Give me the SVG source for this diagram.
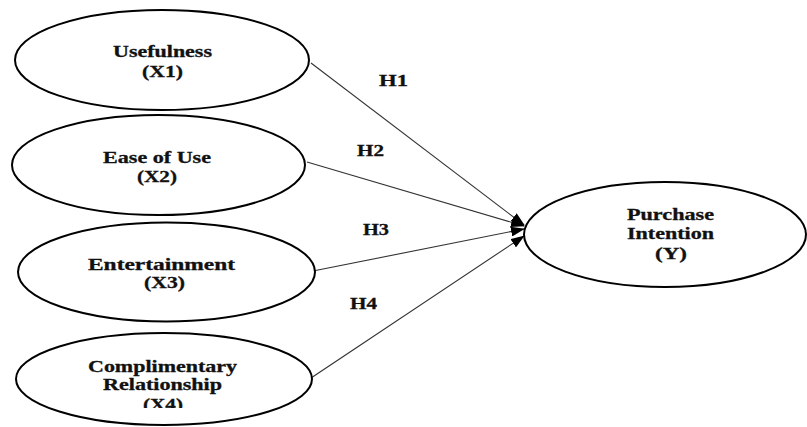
<svg xmlns="http://www.w3.org/2000/svg" width="807" height="427" viewBox="0 0 807 427">
  <style>
    .node ellipse { fill: #ffffff; stroke: #000000; stroke-width: 2; }
    .lbl { font-family: 'Liberation Serif', 'DejaVu Serif', serif; font-weight: 700; font-size: 16.5px; fill: #111111; stroke: #111111; stroke-width: 0.3; text-anchor: middle; }
    .conn line { stroke: #333333; stroke-width: 1.1; fill: none; marker-end: url(#arrow); }
    .hl { font-family: 'Liberation Serif', 'DejaVu Serif', serif; font-weight: 700; font-size: 16.5px; fill: #111111; stroke: #111111; stroke-width: 0.3; }
  </style>
  <defs>
    <marker id="arrow" markerUnits="userSpaceOnUse" markerWidth="14" markerHeight="10" refX="13" refY="5" orient="auto">
      <path d="M0,0 L14,5 L0,10 Z" fill="#000000"/>
    </marker>
    <clipPath id="clipX4">
      <rect x="0" y="0" width="807" height="408"/>
    </clipPath>
  </defs>
  <rect width="807" height="427" fill="#ffffff"/>

  <g id="connectors" class="conn">
    <line x1="311" y1="63" x2="524" y2="225"/>
    <line x1="307" y1="162" x2="524" y2="226"/>
    <line x1="313" y1="271" x2="524" y2="229"/>
    <line x1="311" y1="378" x2="524" y2="236"/>
  </g>

  <g id="labels">
    <text class="hl" x="379" y="86" textLength="29" lengthAdjust="spacingAndGlyphs">H1</text>
    <text class="hl" x="357" y="156" textLength="27" lengthAdjust="spacingAndGlyphs">H2</text>
    <text class="hl" x="363" y="235" textLength="26" lengthAdjust="spacingAndGlyphs">H3</text>
    <text class="hl" x="350" y="309" textLength="27" lengthAdjust="spacingAndGlyphs">H4</text>
  </g>

  <g id="x1" class="node">
    <ellipse cx="162" cy="60" rx="147" ry="50"/>
    <text class="lbl" x="162.5" y="57" textLength="99" lengthAdjust="spacingAndGlyphs">Usefulness</text>
    <text class="lbl" x="162.5" y="77" textLength="41" lengthAdjust="spacingAndGlyphs">(X1)</text>
  </g>

  <g id="x2" class="node">
    <ellipse cx="158.5" cy="165" rx="146.5" ry="50"/>
    <text class="lbl" x="157" y="163" textLength="108" lengthAdjust="spacingAndGlyphs">Ease of Use</text>
    <text class="lbl" x="157" y="182" textLength="40" lengthAdjust="spacingAndGlyphs">(X2)</text>
  </g>

  <g id="x3" class="node">
    <ellipse cx="166.5" cy="272" rx="148.5" ry="49.5"/>
    <text class="lbl" x="161.5" y="270" textLength="147" lengthAdjust="spacingAndGlyphs">Entertainment</text>
    <text class="lbl" x="164.5" y="288" textLength="41" lengthAdjust="spacingAndGlyphs">(X3)</text>
  </g>

  <g id="x4" class="node">
    <ellipse cx="164" cy="379" rx="148" ry="46"/>
    <text class="lbl" x="162.5" y="372" textLength="149" lengthAdjust="spacingAndGlyphs">Complimentary</text>
    <text class="lbl" x="162.5" y="390" textLength="119" lengthAdjust="spacingAndGlyphs">Relationship</text>
    <text class="lbl" x="163" y="410" textLength="40" lengthAdjust="spacingAndGlyphs" clip-path="url(#clipX4)">(X4)</text>
  </g>

  <g id="y" class="node">
    <ellipse cx="665" cy="234.5" rx="141" ry="52.5"/>
    <text class="lbl" x="670.5" y="220" textLength="87" lengthAdjust="spacingAndGlyphs">Purchase</text>
    <text class="lbl" x="670.5" y="239" textLength="87" lengthAdjust="spacingAndGlyphs">Intention</text>
    <text class="lbl" x="671" y="259" textLength="32" lengthAdjust="spacingAndGlyphs">(Y)</text>
  </g>
</svg>
